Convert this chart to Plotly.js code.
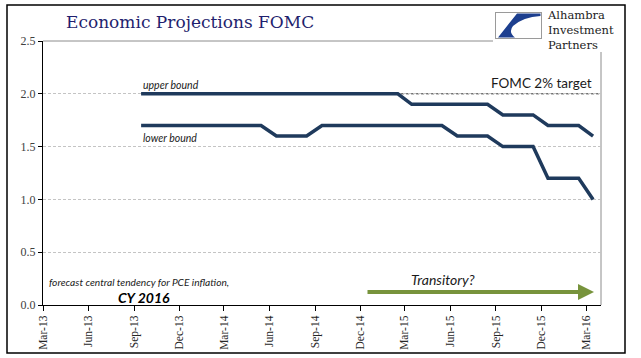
<!DOCTYPE html>
<html>
<head>
<meta charset="utf-8">
<script src="https://cdn.plot.ly/plotly-3.0.1.min.js"></script>
<style>html,body{margin:0;padding:0;background:#fff;}#chart{width:641px;height:358px;}</style>
</head>
<body>
<div id="chart"></div>
<script>
// ---- data ----
var months = ['2013-09-15','2013-10-15','2013-11-15','2013-12-15',
  '2014-01-15','2014-02-15','2014-03-15','2014-04-15','2014-05-15','2014-06-15',
  '2014-07-15','2014-08-15','2014-09-15','2014-10-15','2014-11-15','2014-12-15',
  '2015-01-15','2015-02-15','2015-03-15','2015-04-15','2015-05-15','2015-06-15',
  '2015-07-15','2015-08-15','2015-09-15','2015-10-15','2015-11-15','2015-12-15',
  '2016-01-15','2016-02-15','2016-03-15'];
var upperBound = [2.0,2.0,2.0,2.0,
  2.0,2.0,2.0,2.0,2.0,2.0,
  2.0,2.0,2.0,2.0,2.0,2.0,
  2.0,2.0,1.9,1.9,1.9,1.9,
  1.9,1.9,1.8,1.8,1.8,1.7,
  1.7,1.7,1.6];
var lowerBound = [1.7,1.7,1.7,1.7,
  1.7,1.7,1.7,1.7,1.7,1.6,
  1.6,1.6,1.7,1.7,1.7,1.7,
  1.7,1.7,1.7,1.7,1.7,1.6,
  1.6,1.6,1.5,1.5,1.5,1.2,
  1.2,1.2,1.0];
var targetValue = 2.0;
var tickDates = ['2013-03-01','2013-06-01','2013-09-01','2013-12-01','2014-03-01','2014-06-01',
  '2014-09-01','2014-12-01','2015-03-01','2015-06-01','2015-09-01','2015-12-01','2016-03-01'];
var tickLabels = ['Mar-13','Jun-13','Sep-13','Dec-13','Mar-14','Jun-14','Sep-14','Dec-14',
  'Mar-15','Jun-15','Sep-15','Dec-15','Mar-16'];
var yTicks = [0, 0.5, 1.0, 1.5, 2.0, 2.5];

// ---- layout helpers (pixel -> paper) ----
var W = 641, H = 358, ML = 43, MR = 40, MT = 41, MB = 53;
var PW = W - ML - MR, PH = H - MT - MB;
function px(x){ return (x - ML) / PW; }
function py(y){ return (H - MB - y) / PH; }

var lineColor = '#1F3A5C';
var traces = [
  {x: months, y: upperBound, type: 'scatter', mode: 'lines', name: 'upper bound',
   line: {color: lineColor, width: 3.5}, hoverinfo: 'skip'},
  {x: months, y: lowerBound, type: 'scatter', mode: 'lines', name: 'lower bound',
   line: {color: lineColor, width: 3.5}, hoverinfo: 'skip'}
];

var serif = 'Liberation Serif, Times New Roman, serif';
var sans = 'Lato, Open Sans, sans-serif';

var logoSvg = '<svg xmlns="http://www.w3.org/2000/svg" width="47" height="27" viewBox="0 0 47 27">' +
  '<rect x="0.5" y="0.5" width="46" height="26" fill="#fff" stroke="#9a9a9a" stroke-width="1"/>' +
  '<path d="M3 25.5 L22 1.5 L45.5 1.5 L45.5 4 Q28 5 18 14 Q13 20 20 25.5 Z" fill="#1d3f8f"/></svg>';
var logoSrc = 'data:image/svg+xml;charset=utf-8,' + encodeURIComponent(logoSvg);

var layout = {
  width: W, height: H,
  margin: {l: ML, r: MR, t: MT, b: MB, pad: 0},
  paper_bgcolor: '#ffffff', plot_bgcolor: '#ffffff',
  showlegend: false,
  xaxis: {
    type: 'date', range: ['2013-03-01', '2016-03-31'],
    tickmode: 'array', tickvals: tickDates, ticktext: tickLabels,
    tickangle: -90, showgrid: false, zeroline: false,
    showline: true, linecolor: '#000', linewidth: 1,
    ticks: 'outside', ticklen: 5, tickcolor: '#000', tickwidth: 1,
    tickfont: {family: serif, size: 11.5, color: '#262626'}
  },
  yaxis: {
    range: [0, 2.5], tickmode: 'array', tickvals: yTicks, tickformat: '.1f',
    showgrid: true, gridcolor: '#c4c4c4', griddash: '3px,2px', gridwidth: 1,
    zeroline: false, showline: true, linecolor: '#000', linewidth: 1,
    ticks: 'outside', ticklen: 4, tickcolor: '#000', tickwidth: 1,
    tickfont: {family: serif, size: 12, color: '#404040'}
  },
  images: [
    {source: logoSrc, xref: 'paper', yref: 'paper', x: px(495), y: py(12),
     sizex: px(542) - px(495), sizey: py(12) - py(39), xanchor: 'left', yanchor: 'top',
     sizing: 'stretch', layer: 'above'}
  ],
  shapes: [
    {type: 'line', xref: 'paper', yref: 'paper', x0: 0, x1: 1, y0: 1, y1: 1,
     line: {color: '#8c8c8c', width: 1}, layer: 'below'},
    {type: 'line', xref: 'paper', yref: 'paper', x0: 1, x1: 1, y0: 0, y1: 1,
     line: {color: '#8c8c8c', width: 1}, layer: 'below'},
    {type: 'line', xref: 'x', yref: 'y', x0: months[0], x1: '2016-03-31', y0: targetValue, y1: targetValue,
     line: {color: '#333333', width: 1, dash: '3px,2px'}, layer: 'below'},
    {type: 'rect', xref: 'paper', yref: 'paper', x0: px(493), x1: px(620), y0: py(52), y1: py(6),
     fillcolor: '#ffffff', line: {width: 0}, layer: 'below'},
    {type: 'rect', xref: 'paper', yref: 'paper', x0: px(7), x1: px(625), y0: py(353), y1: py(5),
     fillcolor: 'rgba(0,0,0,0)', line: {color: '#000', width: 1.5}, layer: 'above'}
  ],
  annotations: [
    {text: 'Economic Projections FOMC', xref: 'paper', yref: 'paper', x: px(64), y: py(22),
     xanchor: 'left', yanchor: 'middle', showarrow: false,
     font: {family: 'DejaVu Serif, serif', size: 17, color: '#1f1f6e'}},
    {text: 'Alhambra<br>Investment<br>Partners', xref: 'paper', yref: 'paper', x: px(546), y: py(30),
     xanchor: 'left', yanchor: 'middle', align: 'left', borderpad: 0,
     showarrow: false, font: {family: 'DejaVu Serif, serif', size: 11.5, color: '#222'}},
    {text: '<i>upper bound</i>', xref: 'paper', yref: 'paper', x: px(141), y: py(85), xanchor: 'left', yanchor: 'middle',
     showarrow: false, font: {family: sans, size: 10.5, color: '#1a1a1a'}},
    {text: '<i>lower bound</i>', xref: 'paper', yref: 'paper', x: px(141), y: py(138), xanchor: 'left', yanchor: 'middle',
     showarrow: false, font: {family: sans, size: 10.5, color: '#1a1a1a'}},
    {text: 'FOMC 2% target', xref: 'paper', yref: 'paper', x: px(594), y: py(83), xanchor: 'right', yanchor: 'middle',
     showarrow: false, font: {family: sans, size: 13.5, color: '#1a1a1a'}},
    {text: '<i>forecast central tendency for PCE inflation,</i>', xref: 'paper', yref: 'paper', x: px(47), y: py(282),
     xanchor: 'left', yanchor: 'middle', showarrow: false, font: {family: sans, size: 10.2, color: '#1a1a1a'}},
    {text: '<b><i>CY 2016</i></b>', xref: 'paper', yref: 'paper', x: px(116), y: py(297),
     xanchor: 'left', yanchor: 'middle', showarrow: false, font: {family: sans, size: 14, color: '#000'}},
    {text: '<i>Transitory?</i>', xref: 'paper', yref: 'paper', x: px(409), y: py(279),
     xanchor: 'left', yanchor: 'middle', showarrow: false, font: {family: sans, size: 14, color: '#1a1a1a'}},
    {text: '', xref: 'paper', yref: 'paper', x: px(594), y: py(292), axref: 'paper', ayref: 'paper',
     ax: px(366), ay: py(292), showarrow: true, arrowhead: 2, arrowsize: 0.8, arrowwidth: 4, arrowcolor: '#77933C'}
  ]
};

Plotly.newPlot('chart', traces, layout, {staticPlot: true, displayModeBar: false});
</script>
</body>
</html>
